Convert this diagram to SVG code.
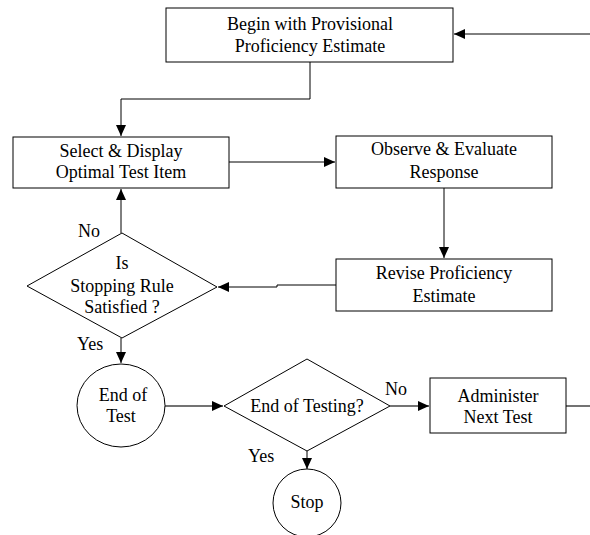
<svg xmlns="http://www.w3.org/2000/svg" width="590" height="535" viewBox="0 0 590 535">
<style>
.n{fill:#fff;stroke:#000;stroke-width:1}
.t{font-family:'Liberation Serif','Times New Roman',serif;font-size:18px;fill:#000;text-anchor:middle}
.l{font-family:'Liberation Serif','Times New Roman',serif;font-size:18px;fill:#000}
.c{fill:none;stroke:#000;stroke-width:1}
.g{fill:none;stroke:#444;stroke-width:1.5}
</style>
<defs>
<marker id="ah" markerUnits="userSpaceOnUse" markerWidth="12" markerHeight="10" refX="11" refY="5" orient="auto">
<path d="M0,0 L11,5 L0,10 Z" fill="#000"/>
</marker>
</defs>
<rect width="590" height="535" fill="#fff"/>
<g id="connectors">
<path class="c" d="M590,34 L454,34" marker-end="url(#ah)"/>
<path class="c" d="M310,62 L310,99 L121,99 L121,136" marker-end="url(#ah)"/>
<path class="c" d="M229,162 L335,162" marker-end="url(#ah)"/>
<path class="c" d="M444,188 L444,258" marker-end="url(#ah)"/>
<path class="c" d="M336,285 L277,285 L277,287 L218,287" marker-end="url(#ah)"/>
<path class="c" d="M121,233 L121,189" marker-end="url(#ah)"/>
<path class="c" d="M121,338 L121,363" marker-end="url(#ah)"/>
<path class="g" d="M165,406 L223,406" marker-end="url(#ah)"/>
<path class="g" d="M390,406 L429,406" marker-end="url(#ah)"/>
<path class="g" d="M566,406 L590,406"/>
<path class="c" d="M307,451 L307,469" marker-end="url(#ah)"/>
</g>
<g id="begin">
<rect class="n" x="166" y="8" width="287" height="54"/>
<text class="t" x="310" y="30">Begin with Provisional</text>
<text class="t" x="310" y="52">Proficiency Estimate</text>
</g>
<g id="select">
<rect class="n" x="13" y="137" width="216" height="51"/>
<text class="t" x="121" y="157">Select &amp; Display</text>
<text class="t" x="121" y="178">Optimal Test Item</text>
</g>
<g id="observe">
<rect class="n" x="336" y="136" width="216" height="52"/>
<text class="t" x="444" y="155">Observe &amp; Evaluate</text>
<text class="t" x="444" y="178">Response</text>
</g>
<g id="revise">
<rect class="n" x="336" y="259" width="216" height="52"/>
<text class="t" x="444" y="279">Revise Proficiency</text>
<text class="t" x="444" y="302">Estimate</text>
</g>
<g id="stopping">
<polygon class="n" points="122,233 217,287 122,338 27,286"/>
<text class="t" x="122" y="269">Is</text>
<text class="t" x="122" y="292">Stopping Rule</text>
<text class="t" x="122" y="313">Satisfied ?</text>
</g>
<g id="endtest">
<ellipse class="n" cx="121" cy="405.5" rx="44" ry="41.5"/>
<text class="t" x="123" y="401">End of</text>
<text class="t" x="121" y="422">Test</text>
</g>
<g id="endtesting">
<polygon class="n" points="307,359 390,406 307,451 224,406"/>
<text class="t" x="307" y="412">End of Testing?</text>
</g>
<g id="administer">
<rect class="n" x="430" y="378" width="136" height="55"/>
<text class="t" x="498" y="402">Administer</text>
<text class="t" x="498" y="423">Next Test</text>
</g>
<g id="stop">
<circle class="n" cx="307" cy="503" r="34"/>
<text class="t" x="307" y="508">Stop</text>
</g>
<g id="labels">
<text class="l" x="78" y="237">No</text>
<text class="l" x="77" y="350">Yes</text>
<text class="l" x="385" y="395">No</text>
<text class="l" x="248" y="462">Yes</text>
</g>
</svg>
